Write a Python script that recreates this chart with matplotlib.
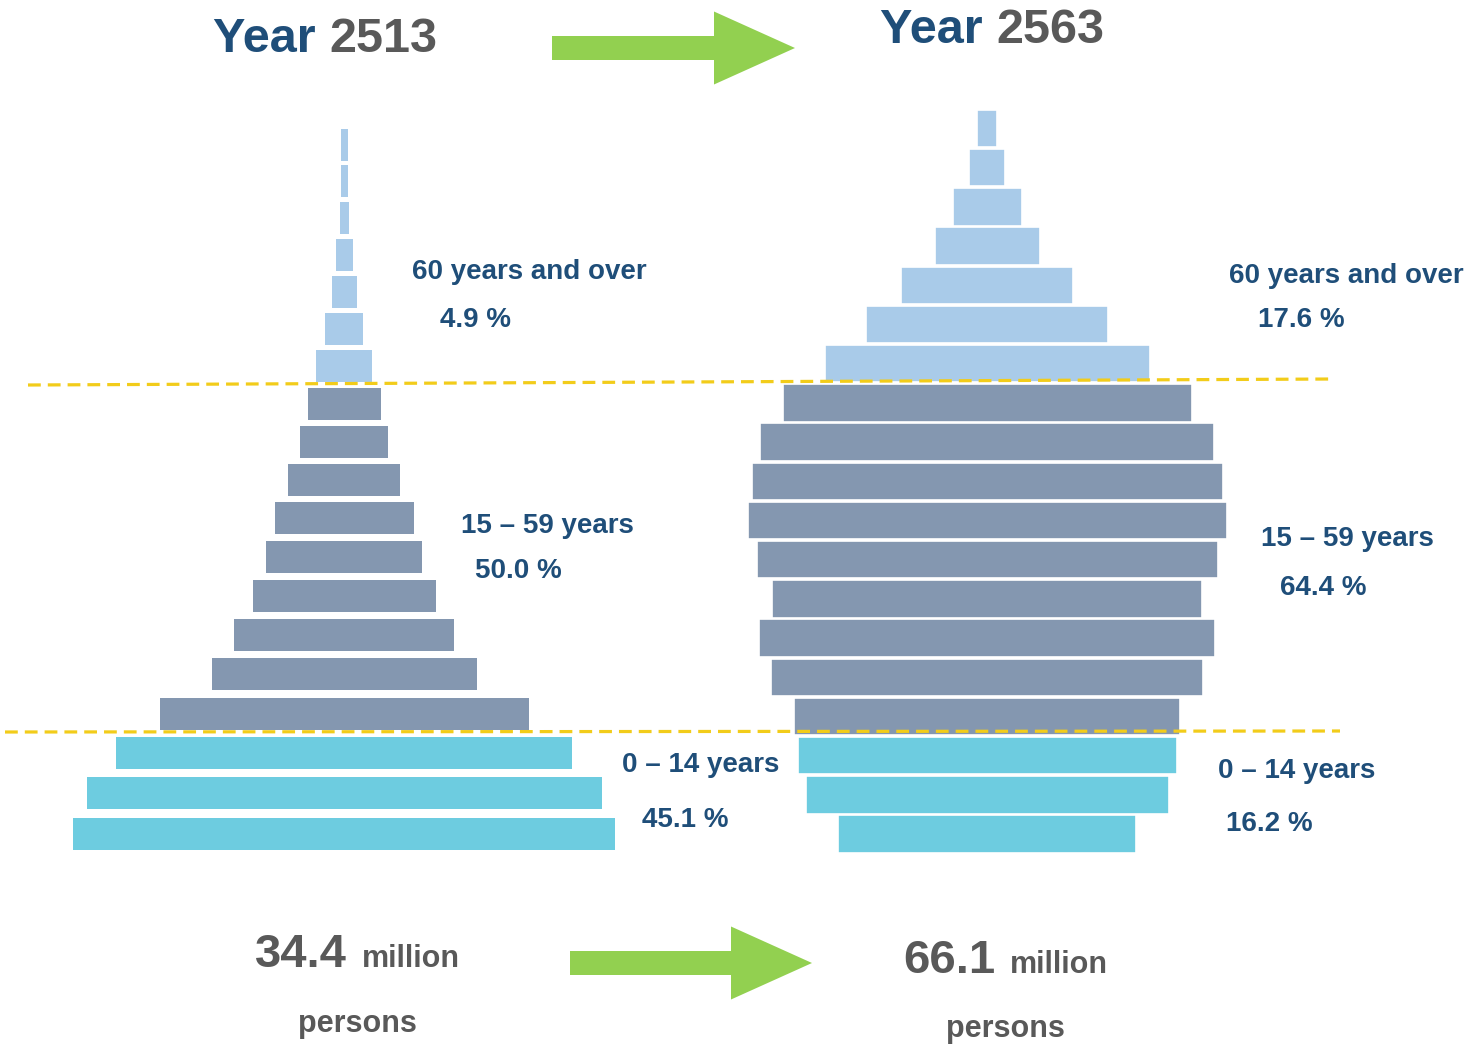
import matplotlib
matplotlib.use("Agg")
import matplotlib.pyplot as plt
from matplotlib.patches import FancyArrow
import numpy as np

# age groups, oldest at the top
age_groups = ["90+", "85-89", "80-84", "75-79", "70-74", "65-69", "60-64",
              "55-59", "50-54", "45-49", "40-44", "35-39", "30-34", "25-29", "20-24", "15-19",
              "10-14", "5-9", "0-4"]
broad_group = ["old"] * 7 + ["work"] * 9 + ["young"] * 3

# bar lengths (same scale for both years)
pop_2513 = [7, 7, 9, 17, 25, 38, 56,
            73, 88, 112, 139, 156, 183, 220, 265, 369,
            456, 515, 542]
pop_2563 = [20, 36, 69, 105, 172, 242, 325,
            409, 454, 471, 479, 461, 430, 456, 432, 386,
            379, 363, 298]

share_labels = ["60 years and over", "15 \u2013 59 years", "0 \u2013 14 years"]
share_2513 = ["4.9 %", "50.0 %", "45.1 %"]
share_2563 = ["17.6 %", "64.4 %", "16.2 %"]
total_2513 = "34.4"
total_2563 = "66.1"

DARK_BLUE = "#1F4E79"
GRAY = "#595959"
GREEN = "#92D050"
YELLOW = "#F2CC1A"
bar_colors = {"old": "#A9CBE9", "work": "#8497B0", "young": "#6DCCE0"}

plt.rcParams["font.family"] = ["Liberation Sans", "DejaVu Sans"]
plt.rcParams["font.weight"] = "bold"

fig = plt.figure(figsize=(14.68, 10.46), dpi=100)
ax = fig.add_axes([0, 0, 1, 1])
ax.set_xlim(0, 1468)
ax.set_ylim(1046, 0)
ax.axis("off")

colors = [bar_colors[g] for g in broad_group]
n = len(age_groups)


def pyramid(values, center, top, step0, step1, height, edge):
    vals = np.array(values, dtype=float)
    # rows get slightly further apart towards the bottom
    steps = np.linspace(step0, step1, n - 1)
    ys = top + np.concatenate([[0], np.cumsum(steps)])
    ax.barh(ys, vals, left=center - vals / 2, height=height, color=colors,
            edgecolor=edge, linewidth=1.2 if edge != "none" else 0)


pyramid(pop_2513, 344, 145, 36.3, 40.2, 32, "none")
pyramid(pop_2563, 987, 128.5, 39.2, 39.2, 37.5, "white")

# group separators
ax.plot([28, 1335], [385, 379], color=YELLOW, lw=2.3, ls=(0, (4, 2.2)), zorder=5)
ax.plot([5, 1340], [732, 731], color=YELLOW, lw=2.3, ls=(0, (4, 2.2)), zorder=5)


def pieces(x, y, parts):
    fig.canvas.draw()
    r = fig.canvas.get_renderer()
    for s, size, color, gap in parts:
        t = ax.text(x + gap, y, s, fontsize=size, color=color, fontweight="bold",
                    va="baseline", ha="left")
        bb = t.get_window_extent(r)
        x = ax.transData.inverted().transform((bb.x1, 0))[0]


# titles
pieces(213, 52, [("Year ", 35, DARK_BLUE, 0), ("2513", 35, GRAY, 0)])
pieces(880, 43, [("Year ", 35, DARK_BLUE, 0), ("2563", 35, GRAY, 0)])

# group labels
left_pos = [(412, 279, 440, 327), (461, 533, 475, 578), (622, 772, 642, 827)]
right_pos = [(1229, 283, 1258, 327), (1261, 546, 1280, 595), (1218, 778, 1226, 831)]
for lab, s, (x1, y1, x2, y2) in zip(share_labels, share_2513, left_pos):
    ax.text(x1, y1, lab, fontsize=20, color=DARK_BLUE, fontweight="bold", va="baseline")
    ax.text(x2, y2, s, fontsize=20, color=DARK_BLUE, fontweight="bold", va="baseline")
for lab, s, (x1, y1, x2, y2) in zip(share_labels, share_2563, right_pos):
    ax.text(x1, y1, lab, fontsize=20, color=DARK_BLUE, fontweight="bold", va="baseline")
    ax.text(x2, y2, s, fontsize=20, color=DARK_BLUE, fontweight="bold", va="baseline")

# totals
pieces(255, 967, [(total_2513, 34, GRAY, 0), ("million", 22, GRAY, 15)])
pieces(903, 973, [(total_2563, 34, GRAY, 0), ("million", 22, GRAY, 15)])
ax.text(298, 1032, "persons", fontsize=22, color=GRAY, fontweight="bold", va="baseline")
ax.text(946, 1037, "persons", fontsize=22, color=GRAY, fontweight="bold", va="baseline")

# arrows
for x0, x1, y in [(552, 795, 48), (570, 812, 963)]:
    ax.add_patch(FancyArrow(x0, y, x1 - x0, 0, width=24, head_width=73,
                            head_length=81, length_includes_head=True,
                            color=GREEN, lw=0))

fig.savefig("out.png", dpi=100)
